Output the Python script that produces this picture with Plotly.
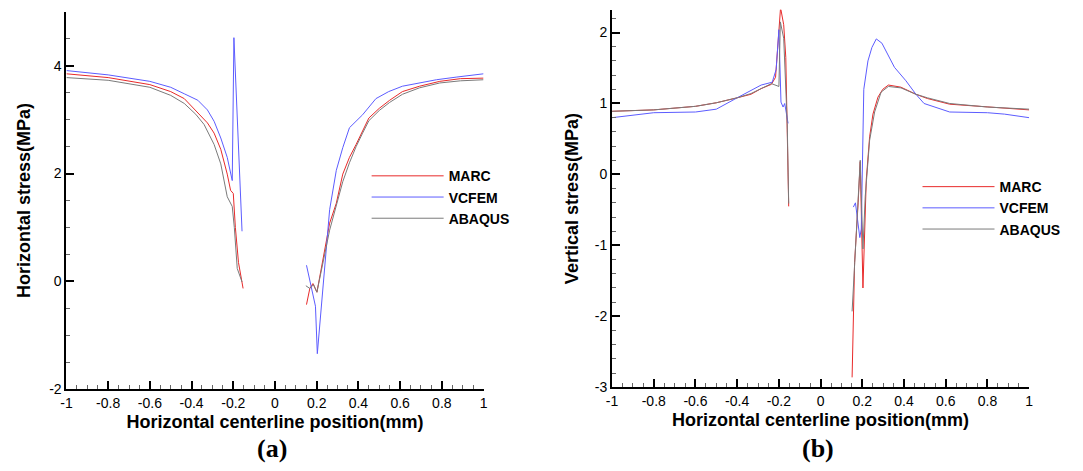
import plotly.graph_objects as go

# ---------------- (a) Horizontal stress ----------------
a_marc_x = [-1, -0.8, -0.6, -0.5, -0.435, -0.38, -0.324, -0.292, -0.26, -0.229, -0.213, -0.2, -0.19, -0.175, -0.165, -0.153,
            None,
            0.151, 0.167, 0.182, 0.201, 0.262, 0.294, 0.325, 0.357, 0.389, 0.42, 0.45, 0.5, 0.55, 0.611, 0.693, 0.79, 0.889, 1]
a_marc_y = [3.85, 3.78, 3.65, 3.52, 3.39, 3.17, 2.94, 2.75, 2.45, 1.99, 1.69, 1.63, 1.0, 0.35, 0.1, -0.13,
            None,
            -0.43, -0.13, -0.04, -0.2, 1.08, 1.45, 1.99, 2.30, 2.54, 2.79, 3.03, 3.21, 3.36, 3.52, 3.62, 3.71, 3.76, 3.77]

a_vcfem_x = [-1, -0.8, -0.6, -0.5, -0.435, -0.37, -0.324, -0.292, -0.26, -0.229, -0.205, -0.197, -0.158,
             None,
             0.151, 0.194, 0.203, 0.262, 0.294, 0.325, 0.357, 0.389, 0.42, 0.484, 0.545, 0.611, 0.676, 0.774, 0.872, 1]
a_vcfem_y = [3.91, 3.83, 3.71, 3.6, 3.48, 3.36, 3.18, 2.97, 2.66, 2.30, 1.87, 4.52, 0.93,
             None,
             0.30, -0.46, -1.34, 1.33, 2.06, 2.48, 2.85, 2.97, 3.09, 3.39, 3.52, 3.62, 3.67, 3.74, 3.79, 3.85]

a_abaqus_x = [-1, -0.8, -0.6, -0.5, -0.435, -0.38, -0.34, -0.292, -0.26, -0.229, -0.205, -0.195, -0.181, -0.158,
              None,
              0.148, 0.167, 0.185, 0.201, 0.262, 0.294, 0.325, 0.357, 0.389, 0.42, 0.45, 0.5, 0.55, 0.611, 0.693, 0.79, 0.889, 1]
a_abaqus_y = [3.78, 3.73, 3.6, 3.45, 3.30, 3.1, 2.91, 2.54, 2.18, 1.57, 1.39, 1.0, 0.24, -0.01,
              None,
              -0.08, -0.13, -0.06, -0.2, 0.95, 1.4, 1.85, 2.2, 2.5, 2.75, 2.98, 3.17, 3.32, 3.47, 3.59, 3.68, 3.72, 3.74]

# ---------------- (b) Vertical stress ----------------
b_marc_x = [-1, -0.8, -0.6, -0.5, -0.4, -0.334, -0.285, -0.236, -0.216, -0.192, -0.177, -0.167, -0.153,
            None,
            0.151, 0.163, 0.18, 0.19, 0.203, 0.219, 0.235, 0.251, 0.275, 0.298, 0.325, 0.385, 0.457, 0.512, 0.619, 0.8, 1]
b_marc_y = [0.89, 0.91, 0.96, 1.01, 1.08, 1.13, 1.21, 1.27, 1.37, 2.35, 2.11, 1.65, -0.45,
            None,
            -2.86, -1.24, -0.40, 0.18, -1.60, -0.07, 0.53, 0.85, 1.09, 1.2, 1.26, 1.23, 1.13, 1.07, 0.99, 0.95, 0.91]

b_vcfem_x = [-1, -0.8, -0.6, -0.5, -0.4, -0.334, -0.285, -0.232, -0.213, -0.2, -0.19, -0.18, -0.172, -0.156,
             None,
             0.157, 0.167, 0.188, 0.195, 0.207, 0.227, 0.246, 0.267, 0.294, 0.322, 0.354, 0.409, 0.457, 0.496, 0.619, 0.8, 0.882, 1]
b_vcfem_y = [0.80, 0.87, 0.88, 0.92, 1.08, 1.19, 1.26, 1.30, 1.48, 2.04, 1.02, 0.95, 1.0, 0.72,
             None,
             -0.46, -0.40, -0.89, -0.77, 1.2, 1.6, 1.79, 1.91, 1.85, 1.69, 1.51, 1.32, 1.13, 1.0, 0.88, 0.87, 0.85, 0.80]

b_abaqus_x = [-1, -0.8, -0.6, -0.5, -0.4, -0.334, -0.285, -0.236, -0.2, -0.193, -0.177, -0.16, -0.153,
              None,
              0.151, 0.163, 0.18, 0.19, 0.203, 0.214, 0.235, 0.259, 0.29, 0.325, 0.385, 0.457, 0.512, 0.619, 0.8, 1]
b_abaqus_y = [0.89, 0.91, 0.96, 1.01, 1.08, 1.14, 1.21, 1.28, 1.24, 2.15, 1.92, 0.72, -0.41,
              None,
              -1.93, -1.24, -0.40, 0.2, -1.05, -0.31, 0.48, 0.88, 1.16, 1.24, 1.22, 1.13, 1.08, 1.0, 0.95, 0.92]

# ---------------- ticks & labels ----------------
x_tick_vals = [-1, -0.8, -0.6, -0.4, -0.2, 0, 0.2, 0.4, 0.6, 0.8, 1]
x_tick_text = ["-1", "-0.8", "-0.6", "-0.4", "-0.2", "0", "0.2", "0.4", "0.6", "0.8", "1"]
a_y_tick_vals = [-2, 0, 2, 4]
a_y_tick_text = ["-2", "0", "2", "4"]
b_y_tick_vals = [-3, -2, -1, 0, 1, 2]
b_y_tick_text = ["-3", "-2", "-1", "0", "1", "2"]

series_names = ["MARC", "VCFEM", "ABAQUS"]
series_colors = ["#e82a2a", "#5c5cff", "#7a7a7a"]

x_title = "Horizontal centerline position(mm)"
a_y_title = "Horizontal stress(MPa)"
b_y_title = "Vertical stress(MPa)"

SANS = "Liberation Sans, Arial, sans-serif"
SERIF = "Liberation Serif, Times New Roman, serif"

fig = go.Figure()

a_data = [(a_marc_x, a_marc_y), (a_vcfem_x, a_vcfem_y), (a_abaqus_x, a_abaqus_y)]
b_data = [(b_marc_x, b_marc_y), (b_vcfem_x, b_vcfem_y), (b_abaqus_x, b_abaqus_y)]

for (xs, ys), name, col in zip(a_data, series_names, series_colors):
    fig.add_trace(go.Scatter(x=xs, y=ys, mode="lines", name=name,
                             line=dict(color=col, width=1), xaxis="x", yaxis="y",
                             legend="legend", connectgaps=False))
for (xs, ys), name, col in zip(b_data, series_names, series_colors):
    fig.add_trace(go.Scatter(x=xs, y=ys, mode="lines", name=name,
                             line=dict(color=col, width=1), xaxis="x2", yaxis="y2",
                             legend="legend2", connectgaps=False))

W, H = 1083, 471


def px_x(p):
    return p / W


def px_y(p):
    return (H - p) / H


common_x = dict(
    range=[-1, 1], tickmode="array", tickvals=x_tick_vals, ticktext=x_tick_text,
    ticks="inside", ticklen=8, tickwidth=2, tickcolor="black",
    minor=dict(tickmode="linear", tick0=-1, dtick=0.05, ticks="inside", ticklen=4, tickwidth=1, tickcolor="#666"),
    showline=True, linewidth=2, linecolor="black", showgrid=False, zeroline=False,
    tickfont=dict(family=SANS, size=14, color="black"),
    title=dict(text=x_title, font=dict(family=SANS, size=18, color="black", weight="bold"), standoff=5),
)

common_y = dict(
    ticks="inside", ticklen=8, tickwidth=2, tickcolor="black",
    showline=True, linewidth=2, linecolor="black", showgrid=False, zeroline=False,
    tickfont=dict(family=SANS, size=14, color="black"),
)

legend_common = dict(
    font=dict(family=SANS, size=14, color="black", weight="bold"),
    bgcolor="rgba(0,0,0,0)", borderwidth=0, xanchor="left", yanchor="top",
    itemwidth=72, tracegroupgap=0,
)

fig.update_layout(
    width=W, height=H,
    margin=dict(l=0, r=0, t=0, b=0),
    paper_bgcolor="white", plot_bgcolor="white",
    xaxis=dict(domain=[px_x(61), px_x(482)], anchor="y", **common_x),
    yaxis=dict(domain=[px_y(396), px_y(12)], anchor="x", range=[-2, 5],
               tickmode="array", tickvals=a_y_tick_vals, ticktext=a_y_tick_text,
               minor=dict(tickmode="linear", tick0=-2, dtick=0.5, ticks="inside", ticklen=4, tickwidth=1, tickcolor="#666"),
               title=dict(text=a_y_title, font=dict(family=SANS, size=18, color="black", weight="bold"), standoff=14),
               **common_y),
    xaxis2=dict(domain=[px_x(611.7), px_x(1032.7)], anchor="y2", **common_x),
    yaxis2=dict(domain=[px_y(394), px_y(10)], anchor="x2", range=[-3, 2.32],
                tickmode="array", tickvals=b_y_tick_vals, ticktext=b_y_tick_text,
                minor=dict(tickmode="linear", tick0=-3, dtick=0.2, ticks="inside", ticklen=4, tickwidth=1, tickcolor="#666"),
                title=dict(text=b_y_title, font=dict(family=SANS, size=18, color="black", weight="bold"), standoff=11),
                **common_y),
    legend=dict(x=px_x(364), y=px_y(163), **legend_common),
    legend2=dict(x=px_x(920), y=px_y(174), **legend_common),
    annotations=[
        dict(text="(a)", xref="paper", yref="paper", x=px_x(268), y=px_y(456), xanchor="center", yanchor="middle",
             showarrow=False, font=dict(family=SERIF, size=26, color="black", weight="bold")),
        dict(text="(b)", xref="paper", yref="paper", x=px_x(820), y=px_y(456), xanchor="center", yanchor="middle",
             showarrow=False, font=dict(family=SERIF, size=26, color="black", weight="bold")),
    ],
)

fig.write_html("out.html")
